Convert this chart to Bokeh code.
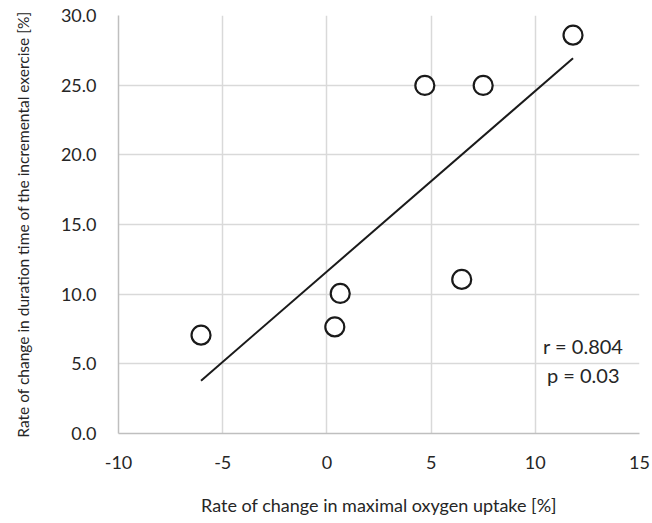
import numpy as np
from bokeh.plotting import figure
from bokeh.models import Range1d, FixedTicker, NumeralTickFormatter, Label
from bokeh.embed import file_html
from bokeh.resources import INLINE

# Data
vo2_change = [-6.04, 0.38, 0.64, 6.47, 4.70, 7.50, 11.81]
duration_change = [7.06, 7.65, 10.05, 11.06, 24.98, 24.98, 28.59]
x_ticks = [-10, -5, 0, 5, 10, 15]
y_ticks = [0, 5, 10, 15, 20, 25, 30]
stats_text = ["r = 0.804", "p = 0.03"]

FONT = "Lato"

p = figure(width=650, height=520, output_backend="svg", toolbar_location=None,
           x_range=Range1d(-10, 15), y_range=Range1d(0, 30),
           min_border_left=118, min_border_top=15, min_border_right=11, min_border_bottom=87)
p.outline_line_color = None
p.background_fill_color = "white"

p.xaxis.ticker = FixedTicker(ticks=x_ticks)
p.yaxis.ticker = FixedTicker(ticks=y_ticks)
p.xaxis.formatter = NumeralTickFormatter(format="0")
p.yaxis.formatter = NumeralTickFormatter(format="0.0")
p.xgrid.ticker = FixedTicker(ticks=x_ticks)
p.ygrid.ticker = FixedTicker(ticks=y_ticks)
p.grid.grid_line_color = "#d9d9d9"
p.grid.grid_line_width = 1.5

for ax in (p.xaxis, p.yaxis):
    ax.axis_line_color = "#bfbfbf"
    ax.axis_line_width = 1.5
    ax.major_tick_line_color = None
    ax.minor_tick_line_color = None
    ax.major_label_text_font = FONT
    ax.major_label_text_font_size = "18px"
    ax.major_label_text_color = "#262626"
    ax.axis_label_text_font = FONT
    ax.axis_label_text_font_style = "normal"
    ax.axis_label_text_color = "#262626"

p.xaxis.axis_label_text_font_size = "18px"
p.yaxis.axis_label_text_font_size = "15.5px"
p.xaxis.major_label_standoff = 16
p.yaxis.major_label_standoff = 16
p.xaxis.axis_label = "Rate of change in maximal oxygen uptake [%]"
p.yaxis.axis_label = "Rate of change in duration time of the incremental exercise [%]"
p.xaxis.axis_label_standoff = 22
p.yaxis.axis_label_standoff = 26

# Regression line fitted from the data
xa = np.array(vo2_change)
ya = np.array(duration_change)
slope, intercept = np.polyfit(xa, ya, 1)
lx = [xa.min(), xa.max()]
ly = [slope * v + intercept for v in lx]
p.line(lx, ly, line_color="#1a1a1a", line_width=2)

p.scatter(vo2_change, duration_change, size=19, marker="circle",
          fill_color="white", line_color="#1a1a1a", line_width=2.2)

for txt, yy in zip(stats_text, [6.27, 4.19]):
    p.add_layout(Label(x=12.3, y=yy, text=txt, text_align="center", text_baseline="middle",
                       text_font=FONT, text_font_size="20px", text_color="#262626"))

open("out.html", "w").write(file_html(p, INLINE))
